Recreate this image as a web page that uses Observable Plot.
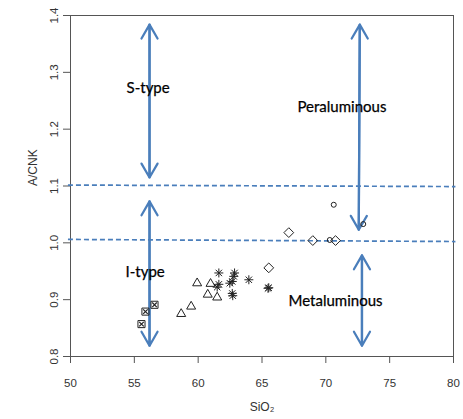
<!DOCTYPE html>
<html><head><meta charset="utf-8">
<script src="https://cdn.jsdelivr.net/npm/d3@7"></script>
<script src="https://cdn.jsdelivr.net/npm/@observablehq/plot@0.6"></script>
<style>html,body{margin:0;padding:0;background:#fff}svg{display:block}</style>
</head><body><div id="chart"></div>
<script>
// Axis ticks
const xTicks = [50, 55, 60, 65, 70, 75, 80];
const yTicks = [0.8, 0.9, 1.0, 1.1, 1.2, 1.3, 1.4];

// Series (SiO2, A/CNK)
const boxSiO2 = [55.56, 55.87, 56.58];
const boxACNK = [0.857, 0.879, 0.891];

const triSiO2 = [58.67, 59.45, 59.92, 60.97, 60.75, 61.49];
const triACNK = [0.875, 0.888, 0.929, 0.928, 0.909, 0.904];

const starSiO2 = [61.62, 62.85, 62.79, 63.97, 61.62, 61.49, 62.48, 62.67, 62.67, 62.71, 65.53, 65.47];
const starACNK = [0.947, 0.947, 0.941, 0.935, 0.927, 0.922, 0.929, 0.932, 0.911, 0.907, 0.921, 0.920];

const diaSiO2 = [65.53, 67.10, 68.98, 70.76];
const diaACNK = [0.956, 1.018, 1.004, 1.004];

const circSiO2 = [70.62, 70.31, 72.93];
const circACNK = [1.067, 1.005, 1.033];

// Hand-drawn boundary lines (dashed)
const boundX1 = [49.8, 49.8];
const boundY1 = [1.1017, 1.006];
const boundX2 = [80.15, 80.15];
const boundY2 = [1.099, 1.0023];

// Double-headed arrows
const arrX1 = [56.19, 56.19, 72.66, 72.83];
const arrY1 = [1.384, 1.073, 1.384, 0.978];
const arrX2 = [56.19, 56.19, 72.58, 72.83];
const arrY2 = [1.115, 0.819, 1.023, 0.819];

// Annotation labels
const noteText = ["S-type", "I-type", "Peraluminous", "Metaluminous"];
const noteX = [54.39, 54.31, 67.78, 67.08];
const noteY = [1.2715, 0.948, 1.2386, 0.897];

const zip = (xs, ys) => xs.map((x, i) => ({x, y: ys[i]}));
const boxes = zip(boxSiO2, boxACNK);
const tris = zip(triSiO2, triACNK);
const stars = zip(starSiO2, starACNK);
const dias = zip(diaSiO2, diaACNK);
const circs = zip(circSiO2, circACNK);
const bounds = boundX1.map((x1, i) => ({x1, y1: boundY1[i], x2: boundX2[i], y2: boundY2[i]}));
const arrows = arrX1.map((x1, i) => ({x1, y1: arrY1[i], x2: arrX2[i], y2: arrY2[i]}));
const notes = noteText.map((t, i) => ({t, x: noteX[i], y: noteY[i]}));

const blue = "#4a7ebb";
const ink = "#222";

const chart = Plot.plot({
  width: 463,
  height: 419,
  marginLeft: 70,
  marginRight: 10,
  marginTop: 15,
  marginBottom: 63,
  style: {fontFamily: "'Liberation Sans', Arial, sans-serif", fontSize: "11.5px", color: "#333", background: "#fff"},
  x: {domain: [50, 80]},
  y: {domain: [0.8, 1.4]},
  marks: [
    Plot.frame({stroke: "#555"}),
    Plot.axisX({ticks: xTicks, tickSize: 7, tickPadding: 15, label: null, stroke: "#555", lineAnchor: "top"}),
    Plot.axisY({ticks: yTicks, tickSize: 7, tickPadding: 6, tickRotate: -90, tickFormat: d3.format(".1f"), label: null, stroke: "#555"}),
    Plot.text(["A/CNK"], {text: d => d, frameAnchor: "left", dx: -37, rotate: -90, fontSize: 12, fill: "#333"}),
    Plot.text(["SiO₂"], {text: d => d, frameAnchor: "bottom", dy: 54, fontSize: 12, fill: "#333"}),
    Plot.link(bounds, {x1: "x1", y1: "y1", x2: "x2", y2: "y2", stroke: blue, strokeWidth: 1.7, strokeDasharray: "5,3"}),
    Plot.arrow(arrows, {x1: "x1", y1: "y1", x2: "x2", y2: "y2", stroke: blue, strokeWidth: 2.25, headLength: 10.7, headAngle: 60}),
    Plot.arrow(arrows, {x1: "x2", y1: "y2", x2: "x1", y2: "y1", stroke: blue, strokeWidth: 2.25, headLength: 10.7, headAngle: 60}),
    Plot.dot(boxes, {x: "x", y: "y", symbol: "square2", r: 4.5, stroke: ink, fill: "none", strokeWidth: 1}),
    Plot.dot(boxes, {x: "x", y: "y", symbol: "times", r: 2.2, stroke: ink, fill: "none", strokeWidth: 1.2}),
    Plot.dot(tris, {x: "x", y: "y", symbol: "triangle2", r: 4.3, stroke: ink, fill: "none", strokeWidth: 1}),
    Plot.dot(stars, {x: "x", y: "y", symbol: "plus", r: 3.0, stroke: ink, fill: "none", strokeWidth: 1}),
    Plot.dot(stars, {x: "x", y: "y", symbol: "times", r: 3.0, stroke: ink, fill: "none", strokeWidth: 1}),
    Plot.dot(dias, {x: "x", y: "y", symbol: "diamond2", r: 4.4, stroke: ink, fill: "none", strokeWidth: 1}),
    Plot.dot(circs, {x: "x", y: "y", symbol: "circle", r: 2.5, stroke: ink, fill: "none", strokeWidth: 1}),
    Plot.text(notes, {x: "x", y: "y", text: "t", textAnchor: "start", fontFamily: "Lato, 'Open Sans', sans-serif", fontSize: 15, fill: "#000", stroke: "#000", strokeWidth: 0.25})
  ]
});
document.getElementById("chart").appendChild(chart);
</script>
</body></html>
